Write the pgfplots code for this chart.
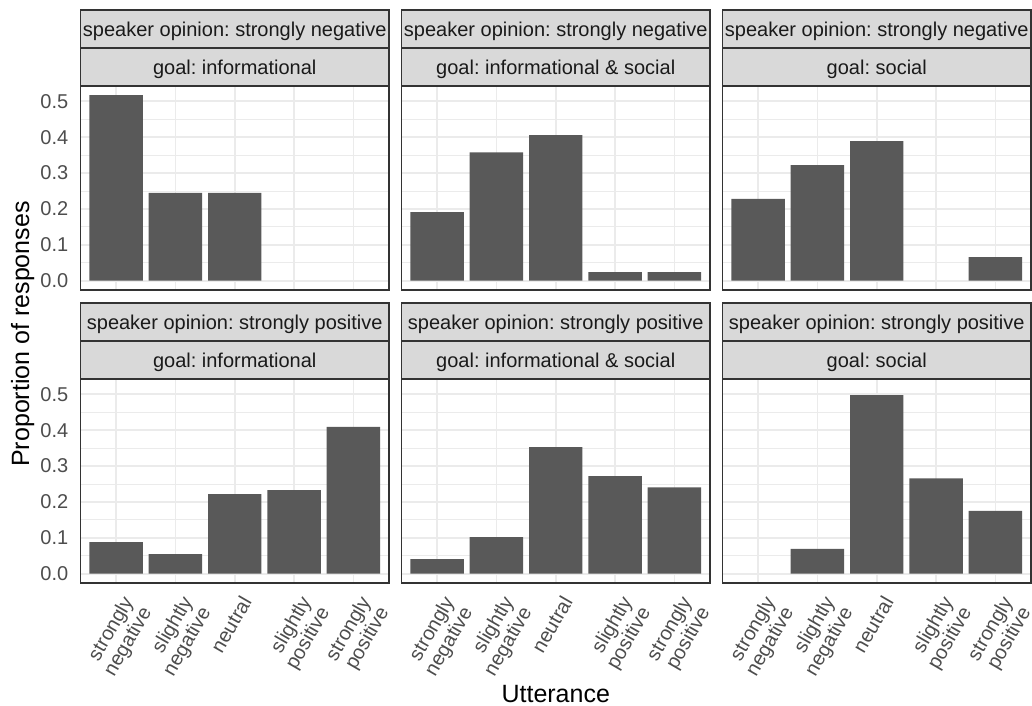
\documentclass[border=0pt]{standalone}
\usepackage{fontspec}
\setmainfont{Liberation Sans}
\usepackage{pgfplots}
\pgfplotsset{compat=1.18}
\frenchspacing
\definecolor{barfill}{HTML}{595959}
\definecolor{gridc}{HTML}{EBEBEB}
\definecolor{borderc}{HTML}{333333}
\definecolor{stripfill}{HTML}{D9D9D9}
\definecolor{ticktext}{HTML}{4D4D4D}
\definecolor{striptext}{HTML}{1A1A1A}
\newcommand\tickfont{\fontsize{20bp}{21bp}\selectfont}
\newcommand\titlefont{\fontsize{25bp}{28bp}\selectfont}
\pgfplotsset{
  facet/.style={
    scale only axis, width=308.5bp, height=204bp,
    anchor=south west,
    xmin=0.4, xmax=5.6, ymin=-0.0258, ymax=0.5426,
    xtick={1,2,3,4,5}, ytick={0,0.1,0.2,0.3,0.4,0.5},
    minor ytick={0.05,0.15,0.25,0.35,0.45},
    grid=both,
    major grid style={gridc, line width=1.8bp},
    minor grid style={gridc, line width=0.9bp},
    axis line style={borderc, line width=1.8bp},
    tick style={borderc, line width=1.8bp},
    minor tick style={draw=none},
    major tick length=6bp,
    tick align=outside,
    xtick pos=left, ytick pos=left,
    ybar, bar width=0.9,
    xticklabels={}, yticklabels={},
    xtick style={draw=none}, ytick style={draw=none},
  },
  leftcol/.style={
    ytick style={borderc, line width=1.8bp},
    yticklabels={0.0,0.1,0.2,0.3,0.4,0.5},
    yticklabel style={font=\tickfont, text=ticktext, anchor=east, inner sep=0pt, xshift=-6bp},
  },
  bottomrow/.style={
    xtick style={borderc, line width=1.8bp},
    xticklabels={{strongly\\negative},{slightly\\negative},{neutral},{slightly\\positive},{strongly\\positive}},
    xticklabel style={font=\tickfont, text=ticktext, xshift=5bp, yshift=-5bp, rotate=60, anchor=north east, align=right, inner sep=0pt},
  },
}
\newcommand\strips[3]{%
  \draw[fill=stripfill, draw=borderc, line width=1.8bp] (#1.north west) rectangle ([yshift=38bp]#1.north east);
  \draw[fill=stripfill, draw=borderc, line width=1.8bp] ([yshift=38bp]#1.north west) rectangle ([yshift=76bp]#1.north east);
  \node[anchor=base, font=\tickfont, text=striptext, inner sep=0pt] at ([yshift=12bp]#1.north) {#3};
  \node[anchor=base, font=\tickfont, text=striptext, inner sep=0pt] at ([yshift=50bp]#1.north) {#2};
}
\begin{document}
\begin{tikzpicture}
\useasboundingbox (0,0) rectangle (1032bp,-706bp);
% top row
\begin{axis}[facet, leftcol, at={(80.5bp,-290bp)}, name=a1]
\addplot[fill=barfill, draw=none] coordinates {(1,0.517) (2,0.245) (3,0.245)};
\end{axis}
\begin{axis}[facet, at={(401.5bp,-290bp)}, name=a2]
\addplot[fill=barfill, draw=none] coordinates {(1,0.191) (2,0.358) (3,0.406) (4,0.024) (5,0.024)};
\end{axis}
\begin{axis}[facet, at={(722.5bp,-290bp)}, name=a3]
\addplot[fill=barfill, draw=none] coordinates {(1,0.228) (2,0.322) (3,0.389) (5,0.066)};
\end{axis}
% bottom row
\begin{axis}[facet, leftcol, bottomrow, at={(80.5bp,-583bp)}, name=b1]
\addplot[fill=barfill, draw=none] coordinates {(1,0.088) (2,0.055) (3,0.222) (4,0.233) (5,0.409)};
\end{axis}
\begin{axis}[facet, bottomrow, at={(401.5bp,-583bp)}, name=b2]
\addplot[fill=barfill, draw=none] coordinates {(1,0.041) (2,0.102) (3,0.353) (4,0.272) (5,0.241)};
\end{axis}
\begin{axis}[facet, bottomrow, at={(722.5bp,-583bp)}, name=b3]
\addplot[fill=barfill, draw=none] coordinates {(2,0.069) (3,0.498) (4,0.266) (5,0.175)};
\end{axis}
\strips{a1}{speaker opinion: strongly negative}{goal: informational}
\strips{a2}{speaker opinion: strongly negative}{goal: informational \& social}
\strips{a3}{speaker opinion: strongly negative}{goal: social}
\strips{b1}{speaker opinion: strongly positive}{goal: informational}
\strips{b2}{speaker opinion: strongly positive}{goal: informational \& social}
\strips{b3}{speaker opinion: strongly positive}{goal: social}
\node[rotate=90, anchor=base, font=\titlefont, inner sep=0pt] at (29bp,-334bp) {Proportion of responses};
\node[anchor=base, font=\titlefont, inner sep=0pt] at (555.75bp,-702bp) {Utterance};
\end{tikzpicture}
\end{document}
